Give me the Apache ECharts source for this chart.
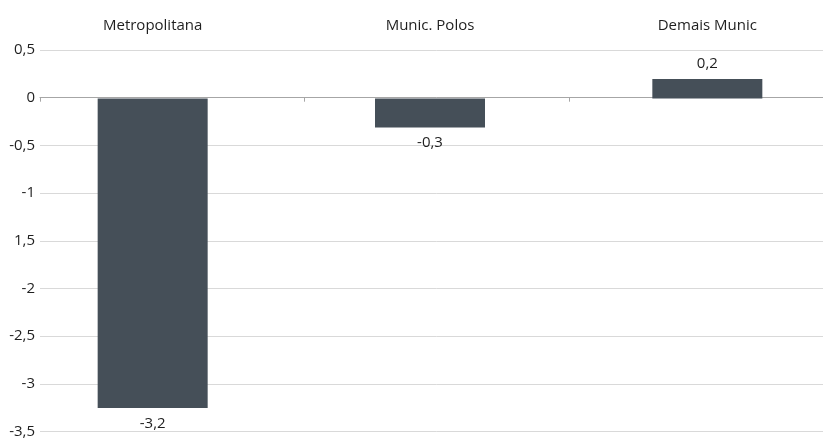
<!DOCTYPE html>
<html>
<head>
<meta charset="utf-8">
<script src="https://cdn.jsdelivr.net/npm/echarts@6/dist/echarts.min.js"></script>
<style>
  html, body { margin: 0; padding: 0; background: #ffffff; overflow: hidden; }
  #chart { width: 860px; height: 439px; }
</style>
</head>
<body>
<div id="chart"></div>
<script>
// Regions and their variation
const categories = ['Metropolitana', 'Munic. Polos', 'Demais Munic'];
const values = [-3.2, -0.3, 0.2];

// Value axis tick labels, top to bottom
const yTickLabels = ['0,5', '0', '-0,5', '-1', '1,5', '-2', '-2,5', '-3', '-3,5'];
const yMin = -3.5;
const yMax = 0.5;
const yStep = 0.5;

const FONT = 'Open Sans';
const TEXT = '#1f1f1f';
const BAR = '#454F58';

function fmt(v) {
  return v.toFixed(1).replace('.', ',');
}

const chart = echarts.init(document.getElementById('chart'), null, { renderer: 'canvas' });

const option = {
  animation: false,
  backgroundColor: '#ffffff',
  textStyle: { fontFamily: FONT },
  grid: [
    // frame for gridlines, zero line and its ticks
    { left: 40, top: 50, width: 793.5, height: 387 },
    // frame for the bars and the category names on top
    { left: 14, top: 50, width: 832, height: 387 }
  ],
  xAxis: [
    {
      type: 'category',
      gridIndex: 0,
      data: categories.map(() => ''),
      axisLine: { show: true, onZero: true, lineStyle: { color: '#A6A6A6', width: 1 } },
      axisTick: { show: true, length: 4, lineStyle: { color: '#A6A6A6' } },
      axisLabel: { show: false },
      splitLine: { show: false }
    },
    {
      type: 'category',
      gridIndex: 1,
      position: 'top',
      data: categories,
      axisLine: { show: false, onZero: false },
      axisTick: { show: false },
      axisLabel: { show: true, margin: 17, color: TEXT, fontFamily: FONT, fontSize: 15 },
      splitLine: { show: false }
    }
  ],
  yAxis: [
    {
      type: 'value',
      gridIndex: 0,
      min: yMin,
      max: yMax,
      interval: yStep,
      axisLine: { show: false },
      axisTick: { show: false },
      axisLabel: {
        margin: 5,
        color: TEXT,
        fontFamily: FONT,
        fontSize: 15,
        formatter: function (v) {
          const i = Math.round((yMax - v) / yStep);
          return yTickLabels[i] !== undefined ? yTickLabels[i] : '';
        }
      },
      splitLine: { show: true, lineStyle: { color: '#D9D9D9', width: 1 } }
    },
    {
      type: 'value',
      gridIndex: 1,
      min: yMin,
      max: yMax,
      interval: yStep,
      show: false,
      splitLine: { show: false }
    }
  ],
  series: [
    {
      type: 'bar',
      xAxisIndex: 1,
      yAxisIndex: 1,
      barWidth: 110,
      itemStyle: { color: BAR },
      data: values.map(v => ({
        value: v,
        label: { position: v >= 0 ? 'top' : 'bottom' }
      })),
      label: {
        show: true,
        distance: 8,
        color: TEXT,
        fontFamily: FONT,
        fontSize: 15,
        formatter: p => fmt(p.value)
      }
    }
  ]
};

chart.setOption(option);
</script>
</body>
</html>
